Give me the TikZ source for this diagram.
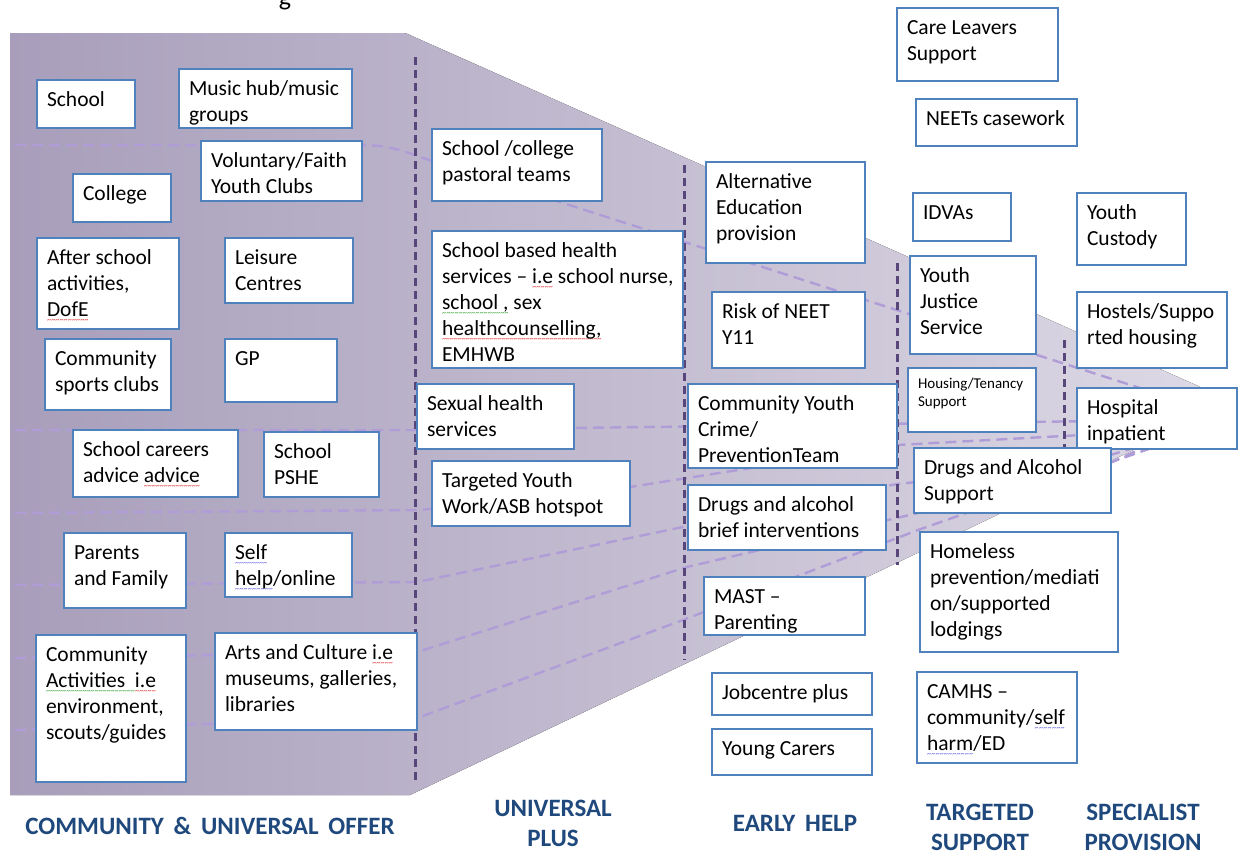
\documentclass[tikz,border=0pt]{standalone}
\usepackage{fontspec}
\setmainfont{Carlito}
\usetikzlibrary{calc}
\definecolor{boxblue}{RGB}{79,129,189}
\definecolor{headblue}{RGB}{31,73,125}
\definecolor{flow}{RGB}{176,156,214}
\definecolor{vdash}{RGB}{88,70,122}
\definecolor{funL}{RGB}{168,158,187}
\definecolor{funR}{RGB}{222,218,230}
\definecolor{spred}{RGB}{225,35,35}
\definecolor{spgreen}{RGB}{40,160,40}
\definecolor{spblue}{RGB}{80,80,225}
\newsavebox\sqbox
\newcommand\sqgen[2]{\leavevmode{\sbox\sqbox{#2}\rlap{\textcolor{#1}{\lower6.5pt\hbox to\wd\sqbox{\xleaders\hbox{\fontsize{8}{8}\selectfont\textasciitilde}\hfill}}}\usebox\sqbox}}
\newcommand\sqr[1]{\sqgen{spred}{#1}}
\newcommand\sqg[1]{\sqgen{spgreen}{#1}}
\newcommand\sqb[1]{\sqgen{spblue}{#1}}
\newcommand\bx[6]{%
  \node[bx, minimum width={#4pt-#2pt}, minimum height={#5pt-#3pt}] (#1) at (#2,#3) {};
  \node[txt] (#1-t) at ($(#1.north west)+(10,7.8)$) {\strut #6};}
\begin{document}
\begin{tikzpicture}[x=1pt,y=-1pt,
  bx/.style={draw=boxblue, line width=1.8pt, fill=white, rectangle, inner sep=0pt, outer sep=0pt, anchor=north west},
  txt/.style={inner sep=0pt, outer sep=0pt, align=left, anchor=north west, font=\fontsize{21.5}{26}\selectfont, text=black},
  head/.style={font=\fontsize{25}{30}\selectfont\bfseries, text=headblue, align=center, anchor=north, inner sep=0pt},
  flowline/.style={draw=flow, line width=2.4pt, dash pattern=on 11pt off 6pt},
  vline/.style={draw=vdash, line width=3pt, dash pattern=on 8pt off 5pt}]
\useasboundingbox (0,0) rectangle (1242,852);
% funnel
\fill[left color=funL, right color=funR] (10,33) -- (402,33) .. controls (406,33) and (408,34) .. (412,36) -- (1234,402) -- (410,795) -- (10,795) -- cycle;
% title fragment
\node[font=\fontsize{26}{30}\selectfont, anchor=base, inner sep=0pt] (gfrag) at (285,5) {g};
% flow lines
\draw[flowline] (15,145) -- (360,145) .. controls (392,145) and (405,152) .. (432,161) -- (1140,388);
\draw[flowline] (15,430) -- (420,430) -- (1100,421);
\draw[flowline] (15,513) -- (420,510) -- (630,487) -- (897,445) -- (1100,434);
\draw[flowline] (15,585) -- (417,582) -- (683,527) -- (897,484) -- (1112,462) -- (1160,440);
\draw[flowline] (15,658) -- (417,652) -- (687,567) -- (918,513) -- (1160,440);
\draw[flowline] (15,730) -- (420,717) -- (683,620) -- (918,530) -- (1160,445);
% vertical dividers
\draw[vline] (415,57) -- (415,781);
\draw[vline] (684,165) -- (684,660);
\draw[vline] (897,263) -- (897,565);
\draw[vline] (1064,340) -- (1064,448);
% community & universal offer
\bx{school}{37}{80}{135}{128}{School}
\bx{music}{179}{69}{352}{128}{Music hub/music\\groups}
\bx{volunt}{201}{141}{362}{201}{Voluntary/Faith\\Youth Clubs}
\bx{college}{73}{174}{171}{222}{College}
\bx{after}{37}{238}{179}{329}{After school\\activities,\\\sqr{DofE}}
\bx{leisure}{225}{238}{353}{303}{Leisure\\Centres}
\bx{sports}{45}{339}{171}{410}{Community\\sports clubs}
\bx{gp}{225}{339}{337}{402}{GP}
\bx{careers}{73}{430}{238}{497}{School careers\\advice \sqr{advice}}
\bx{pshe}{264}{432}{379}{497}{School\\PSHE}
\bx{parents}{64}{533}{186}{608}{Parents\\and Family}
\bx{selfhelp}{225}{533}{352}{597}{\sqb{Self}\\\sqb{help}/online}
\bx{commact}{36}{635}{186}{782}{Community\\\sqg{Activities\ \ }\sqr{i.e}\\environment,\\scouts/guides}
\bx{arts}{215}{633}{417}{730}{Arts and Culture \sqr{i.e}\\museums, galleries,\\libraries}
% universal plus
\bx{pastoral}{432}{129}{602}{201}{School /college\\pastoral teams}
\bx{health}{432}{231}{683}{368}{School based health\\services – \sqr{i.e} school nurse,\\\sqg{school ,} sex\\\sqr{healthcounselling,}\\EMHWB}
\bx{sexual}{417}{384}{574}{449}{Sexual health\\services}
\bx{targeted}{432}{461}{630}{526}{Targeted Youth\\Work/ASB hotspot}
% early help
\bx{altedu}{706}{162}{865}{263}{Alternative\\Education\\provision}
\bx{neet}{712}{292}{865}{368}{Risk of NEET\\Y11}
\bx{cyc}{688}{384}{897}{468}{Community Youth\\Crime/\\PreventionTeam}
\bx{drugsbrief}{688}{485}{886}{550}{Drugs and alcohol\\brief interventions}
\node[bx, minimum width=161pt, minimum height=58pt] (mast) at (704,577) {};
\begin{scope}
\clip (705,578) rectangle (864,633);
\node[txt] (mast-t) at ($(mast.north west)+(10,7.8)$) {\strut MAST –\\Parenting};
\end{scope}
\bx{jobcentre}{712}{673}{872}{715}{Jobcentre plus}
\bx{carers}{712}{729}{872}{775}{Young Carers}
% targeted support / specialist
\bx{careleavers}{897}{8}{1058}{81}{Care Leavers\\Support}
\bx{neetcase}{916}{99}{1077}{146}{NEETs casework}
\bx{idvas}{913}{193}{1011}{241}{IDVAs}
\bx{custody}{1077}{193}{1186}{265}{Youth\\Custody}
\bx{yjs}{910}{256}{1036}{354}{Youth\\Justice\\Service}
\bx{hostels}{1077}{292}{1227}{368}{Hostels/Suppo\\rted housing}
\node[bx, minimum width=128pt, minimum height=64pt] (tenancy) at (908,368) {};
\node[txt, font=\fontsize{15}{18}\selectfont] (tenancy-t) at ($(tenancy.north west)+(10,7.4)$) {\strut Housing/Tenancy\\Support};
\bx{hospital}{1077}{388}{1237}{449}{Hospital\\inpatient}
\bx{dasupport}{914}{448}{1111}{513}{Drugs and Alcohol\\Support}
\bx{homeless}{920}{532}{1118}{652}{Homeless\\prevention/mediati\\on/supported\\lodgings}
\bx{camhs}{917}{672}{1077}{763}{CAMHS –\\community/\sqb{self}\\\sqb{harm}/ED}
% headings
\node[head] (h1) at (210,813) {\strut COMMUNITY \,\&\, UNIVERSAL \,OFFER};
\node[head] (h2) at (553,795) {\strut UNIVERSAL\\PLUS};
\node[head] (h3) at (795,810) {\strut EARLY \,HELP};
\node[head] (h4) at (980,799) {\strut TARGETED\\SUPPORT};
\node[head] (h5) at (1143,799) {\strut SPECIALIST\\PROVISION};
\end{tikzpicture}
\end{document}
